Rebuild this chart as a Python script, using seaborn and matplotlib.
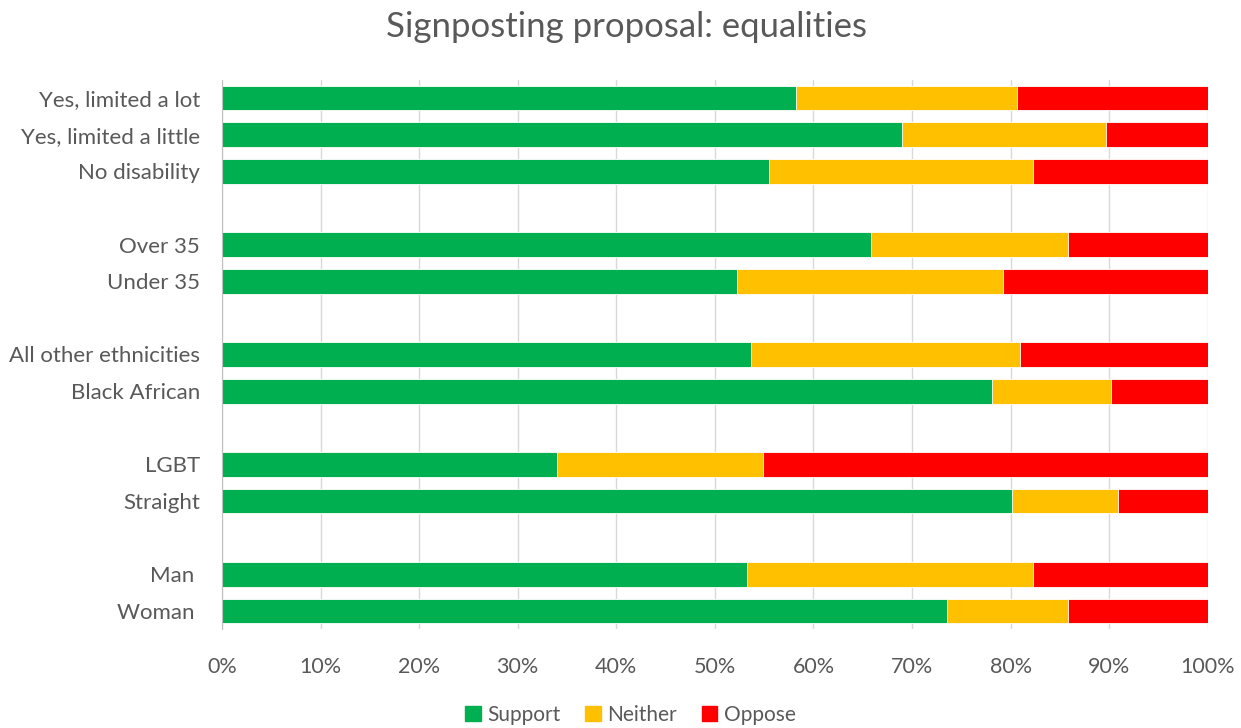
import numpy as np
import pandas as pd
import matplotlib
matplotlib.use("Agg")
import matplotlib.pyplot as plt
import seaborn as sns
from matplotlib.patches import Patch
import matplotlib.ticker as ticker

# groups in the order they appear top to bottom
groups = ["Yes, limited a lot", "Yes, limited a little", "No disability",
          "Over 35", "Under 35",
          "All other ethnicities", "Black African",
          "LGBT", "Straight",
          "Man ", "Woman "]
support = [58.2, 69.0, 55.5, 65.8, 52.2, 53.7, 78.1, 34.0, 80.1, 53.3, 73.5]
neither = [22.4, 20.7, 26.8, 20.0, 27.0, 27.3, 12.1, 20.9, 10.8, 29.0, 12.3]
oppose = [19.4, 10.3, 17.7, 14.2, 20.8, 19.0, 9.8, 45.1, 9.1, 17.7, 14.2]

# empty slots between the groups, like the blank rows in the sheet
order = ["Yes, limited a lot", "Yes, limited a little", "No disability", " ",
         "Over 35", "Under 35", "  ",
         "All other ethnicities", "Black African", "   ",
         "LGBT", "Straight", "    ",
         "Man ", "Woman "]

df = pd.DataFrame({"group": groups, "Support": support,
                   "Neither": neither, "Oppose": oppose})
df["s_n"] = df["Support"] + df["Neither"]
df["all"] = df["s_n"] + df["Oppose"]

green, yellow, red = "#00B050", "#FFC000", "#FF0000"
grey = "#595959"

sns.set_style("white")
plt.rcParams['font.family'] = ['Lato', 'DejaVu Sans']

fig = plt.figure(figsize=(12.41, 7.28), dpi=100)
ax = fig.add_axes([0.1789, 0.1356, 0.7943, 0.755])

kw = dict(y="group", order=order, orient="h", width=0.68, ax=ax,
          edgecolor="white", linewidth=0.6)
sns.barplot(data=df, x="all", color=red, saturation=1, **kw)
sns.barplot(data=df, x="s_n", color=yellow, saturation=1, **kw)
sns.barplot(data=df, x="Support", color=green, saturation=1, **kw)

ax.set_xlim(0, 100)
ax.xaxis.set_major_locator(ticker.MultipleLocator(10))
ax.xaxis.set_major_formatter(ticker.FuncFormatter(lambda v, p: f"{v:.0f}%"))
ax.grid(axis="x", color="#D9D9D9", linewidth=1)
ax.set_axisbelow(True)
for s in ["top", "right", "bottom"]:
    ax.spines[s].set_visible(False)
ax.spines["left"].set_color("#BFBFBF")
ax.set_xlabel("")
ax.set_ylabel("")
ax.tick_params(axis="x", length=0, pad=20, labelsize=15.5, labelcolor=grey)
ax.tick_params(axis="y", length=0, pad=16, labelsize=16, labelcolor=grey)

fig.text(0.505, 0.963, "Signposting proposal: equalities", ha="center",
         va="center", fontsize=25, color=grey)

handles = [Patch(color=green, label="Support"),
           Patch(color=yellow, label="Neither"),
           Patch(color=red, label="Oppose")]
fig.legend(handles=handles, loc="center", bbox_to_anchor=(0.508, 0.018),
           ncol=3, frameon=False, fontsize=15, handlelength=0.75,
           handleheight=0.75, handletextpad=0.3, columnspacing=1.2,
           labelcolor=grey)

plt.savefig("out.png", dpi=100)
